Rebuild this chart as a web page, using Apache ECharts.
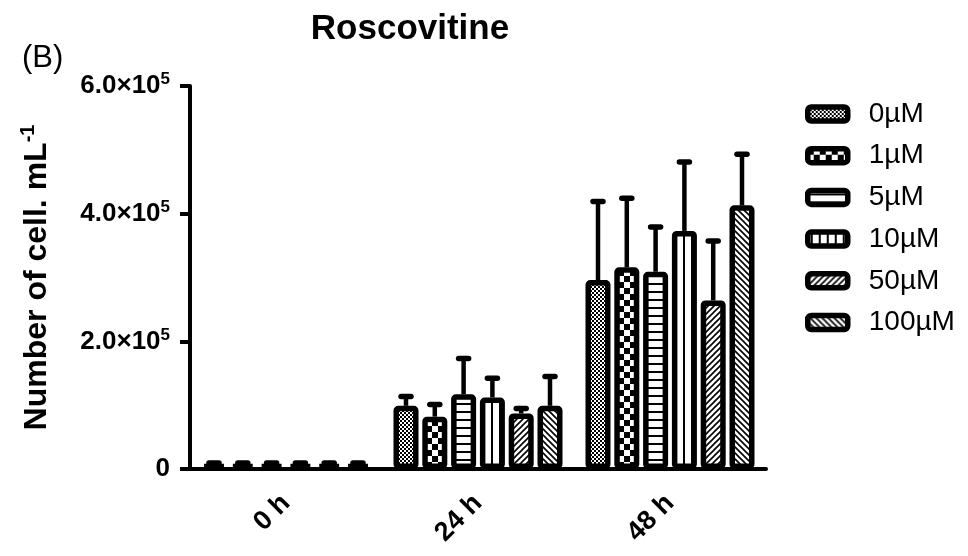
<!DOCTYPE html>
<html>
<head>
<meta charset="utf-8">
<script src="https://cdn.jsdelivr.net/npm/echarts@6/dist/echarts.min.js"></script>
<style>html,body{margin:0;padding:0;background:#fff}#c{width:968px;height:556px}</style>
</head>
<body>
<div id="c"></div>
<script>
// ---- data ----
const categories = ['0 h', '24 h', '48 h'];
const seriesNames = ['0µM', '1µM', '5µM', '10µM', '50µM', '100µM'];
const mean0 = [8000, 99000, 296000];
const mean1 = [8000, 82000, 316000];
const mean5 = [8000, 117000, 309000];
const mean10 = [8000, 112000, 373000];
const mean50 = [8000, 87000, 264000];
const mean100 = [8000, 99000, 413000];
const err0 = [1500, 14600, 123000];
const err1 = [1500, 19000, 108000];
const err5 = [1500, 56000, 70000];
const err10 = [1500, 30000, 108000];
const err50 = [1500, 7700, 93000];
const err100 = [1500, 46000, 80000];
const yTicks = [0, 200000, 400000, 600000];

const means = [mean0, mean1, mean5, mean10, mean50, mean100];
const errs = [err0, err1, err5, err10, err50, err100];

// ---- patterns ----
function pat(type) {
  const c = document.createElement('canvas');
  let s = 8;
  if (type === 'fine') s = 4;
  if (type === 'big') s = 12;
  if (type === 'h') s = 8;
  if (type === 'v') s = 8;
  if (type === 'd1' || type === 'd2') s = 6;
  c.width = s; c.height = s;
  const g = c.getContext('2d');
  g.fillStyle = '#fff'; g.fillRect(0, 0, s, s);
  g.fillStyle = '#000'; g.strokeStyle = '#000';
  if (type === 'fine') { g.fillRect(0, 0, 2, 2); g.fillRect(2, 2, 2, 2); }
  if (type === 'big') { g.fillRect(0, 0, 6, 6); g.fillRect(6, 6, 6, 6); }
  if (type === 'h') { g.fillRect(0, 3, s, 2); }
  if (type === 'v') { g.fillRect(3, 0, 2, s); }
  if (type === 'd1') {
    g.lineWidth = 1.6;
    g.beginPath();
    g.moveTo(-1, s + 1); g.lineTo(s + 1, -1);
    g.moveTo(-1, 1); g.lineTo(1, -1);
    g.moveTo(s - 1, s + 1); g.lineTo(s + 1, s - 1);
    g.stroke();
  }
  if (type === 'd2') {
    g.lineWidth = 1.6;
    g.beginPath();
    g.moveTo(-1, -1); g.lineTo(s + 1, s + 1);
    g.moveTo(s - 1, -1); g.lineTo(s + 1, 1);
    g.moveTo(-1, s - 1); g.lineTo(1, s + 1);
    g.stroke();
  }
  return { image: c, repeat: 'repeat' };
}
const patterns = [pat('fine'), pat('big'), pat('h'), pat('v'), pat('d1'), pat('d2')];

const BW = 25, GAP_PCT = 0.152;
const FONT = 'Liberation Sans, Arial, sans-serif';

const series = [];
seriesNames.forEach((n, k) => {
  series.push({
    name: n, type: 'bar', data: means[k], barWidth: BW, barGap: (GAP_PCT * 100) + '%',
    itemStyle: { color: patterns[k], borderColor: '#000', borderWidth: 5.5, borderRadius: 2 },
    z: 3
  });
});
seriesNames.forEach((n, k) => {
  series.push({
    name: 'err_' + n, type: 'custom', z: 2,
    data: categories.map((c, i) => [i, means[k][i], errs[k][i]]),
    encode: { x: 0, y: 1 },
    renderItem: function (params, api) {
      const ci = api.value(0), m = api.value(1), e = api.value(2);
      const p0 = api.coord([ci, m]);
      const p1 = api.coord([ci, m + e]);
      const gap = BW * GAP_PCT;
      const n = seriesNames.length;
      const total = n * BW + (n - 1) * gap;
      const x = p0[0] - total / 2 + k * (BW + gap) + BW / 2;
      return {
        type: 'group', children: [
          { type: 'line', shape: { x1: x, y1: p0[1], x2: x, y2: p1[1] }, style: { stroke: '#000', lineWidth: 4.5 } },
          { type: 'line', shape: { x1: x - 5, y1: p1[1], x2: x + 5, y2: p1[1] }, style: { stroke: '#000', lineWidth: 5.5, lineCap: 'round' } }
        ]
      };
    }
  });
});

const chart = echarts.init(document.getElementById('c'));
chart.setOption({
  animation: false,
  backgroundColor: '#fff',
  title: {
    text: 'Roscovitine', left: 410, top: 12, textAlign: 'center', padding: 0,
    textStyle: { fontFamily: FONT, fontSize: 35, fontWeight: 'bold', color: '#000' }
  },
  graphic: [{
    type: 'text', left: 22, top: 43,
    style: { text: '(B)', fontFamily: FONT, fontSize: 31, fill: '#000' }
  }],
  legend: {
    orient: 'vertical', left: 805, top: 100, padding: 0, itemWidth: 40, itemHeight: 14, itemGap: 13.7,
    data: seriesNames,
    itemStyle: { borderColor: '#000', borderWidth: 5.5 },
    textStyle: { fontFamily: FONT, fontSize: 28, color: '#000', padding: [0, 0, 0, 16] }
  },
  grid: { left: 190, right: 202, top: 86, bottom: 87, containLabel: false, outerBoundsMode: 'none' },
  xAxis: {
    type: 'category', data: categories,
    axisLine: { lineStyle: { color: '#000', width: 4 } },
    axisTick: { alignWithLabel: true, length: 12, lineStyle: { color: '#000', width: 4 } },
    axisLabel: { rotate: 45, margin: 30, color: '#000', fontFamily: FONT, fontSize: 27, fontWeight: 'bold' }
  },
  yAxis: {
    type: 'value', min: yTicks[0], max: yTicks[yTicks.length - 1], interval: yTicks[1] - yTicks[0],
    splitLine: { show: false },
    axisLine: { show: true, lineStyle: { color: '#000', width: 4 } },
    axisTick: { show: true, length: 10, lineStyle: { color: '#000', width: 4 } },
    axisLabel: {
      margin: 20, color: '#000', fontFamily: FONT, fontSize: 26, fontWeight: 'bold',
      formatter: function (v) { return v === 0 ? '0' : (v / 1e5).toFixed(1) + '×10{sup|5}'; },
      rich: { sup: { fontFamily: FONT, fontSize: 17, fontWeight: 'bold', color: '#000', padding: [0, 0, 13, 0] } }
    },
    name: 'Number of cell. mL{sup|-1}', nameLocation: 'middle', nameRotate: 90, nameGap: 134,
    nameTextStyle: {
      fontFamily: FONT, fontSize: 32, fontWeight: 'bold', color: '#000',
      rich: { sup: { fontFamily: FONT, fontSize: 20, fontWeight: 'bold', color: '#000', padding: [0, 0, 18, 0] } }
    }
  },
  series: series
});
</script>
</body>
</html>
